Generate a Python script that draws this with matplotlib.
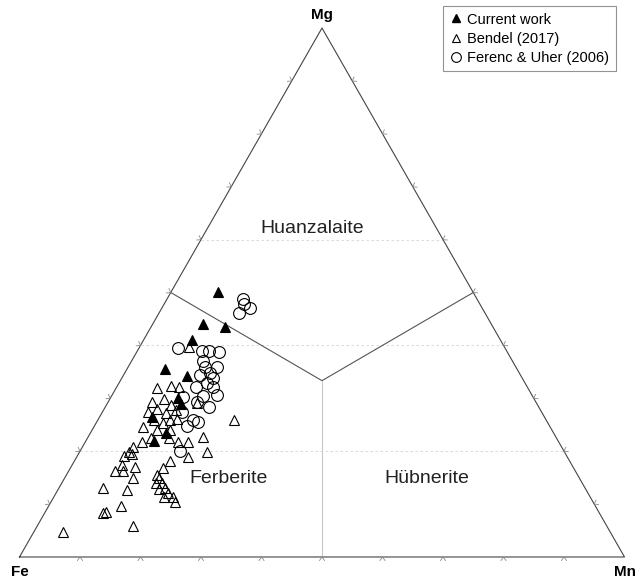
import numpy as np
import matplotlib
matplotlib.use('Agg')
import matplotlib.pyplot as plt
from matplotlib.lines import Line2D

plt.rcParams['font.family'] = ['Liberation Sans', 'DejaVu Sans']

# compositions in % (Mg, Mn), Fe = 100 - Mg - Mn
cur_mg = [50.1, 44.0, 43.5, 41.0, 35.5, 34.2, 30.1, 28.9, 26.5, 23.4, 21.9]
cur_mn = [7.8, 8.3, 12.2, 8.0, 6.3, 10.6, 11.2, 12.2, 8.7, 12.5, 11.2]

ben_mg = [39.7, 31.9, 32.3, 32.1, 29.3, 29.9, 28.7, 29.1, 27.4, 28.0,
          27.2, 27.8, 25.9, 25.3, 25.9, 26.1, 25.9, 24.6, 24.0, 24.0,
          22.5, 22.5, 21.7, 21.7, 22.7, 21.7, 20.8, 19.8, 19.1, 19.5,
          19.8, 18.9, 18.1, 17.4, 16.3, 17.0, 16.3, 14.9, 16.8, 15.5,
          14.9, 14.0, 14.0, 13.0, 12.9, 12.1, 11.3, 11.3, 10.4, 13.0,
          12.7, 9.6, 8.3, 8.5, 5.9, 4.7]
ben_mn = [8.2, 6.8, 8.9, 10.3, 7.3, 8.9, 10.7, 14.8, 7.5, 8.7,
          10.6, 12.0, 9.3, 11.1, 11.9, 13.0, 22.5, 8.1, 10.7, 12.9,
          10.5, 13.5, 15.3, 17.0, 19.0, 9.4, 8.4, 8.2, 7.7, 8.8,
          21.1, 18.4, 15.8, 8.2, 7.6, 10.6, 9.0, 11.3, 15.3, 15.0,
          15.6, 15.6, 16.6, 17.5, 16.6, 18.5, 18.2, 19.7, 20.5, 7.3,
          11.4, 12.0, 9.6, 10.0, 15.8, 4.8]

fer_mg = [48.8, 47.8, 46.1, 47.1, 39.5, 38.9, 38.9, 38.8, 37.1, 35.9,
          35.9, 34.4, 34.8, 33.8, 32.1, 32.9, 32.1, 30.4, 30.6, 30.2,
          29.3, 28.4, 27.4, 25.9, 25.5, 24.8, 20.0]
fer_mn = [12.5, 13.2, 13.3, 14.6, 6.5, 10.7, 11.8, 13.6, 11.8, 12.7,
          14.7, 12.6, 14.1, 15.1, 13.2, 14.6, 16.0, 15.1, 17.3, 11.9,
          14.7, 17.1, 13.2, 15.7, 16.8, 15.3, 16.5]

HR = 529.0 / 605.0  # height / base of the drawn triangle


def tern(mg, mn):
    mg = np.asarray(mg) / 100.0
    mn = np.asarray(mn) / 100.0
    return mn + 0.5 * mg, mg * HR


fig = plt.figure(figsize=(6.35, 5.81), dpi=100)
ax = fig.add_axes([0, 0, 1, 1])
ax.set_xlim(-19.5 / 605, 615.5 / 605)
ax.set_ylim(-24 / 605, 557 / 605)
ax.axis('off')

fe = np.array([0.0, 0.0])
mn = np.array([1.0, 0.0])
mg = np.array([0.5, HR])
cen = (fe + mn + mg) / 3

# faint grid lines (Mg = 20, 40, 60 %)
for g in [0.2, 0.4, 0.6]:
    y = g * HR
    ax.plot([0.5 * g, 1 - 0.5 * g], [y, y], color='#d5d5d5', lw=0.6,
            ls=(0, (3, 3)), zorder=1)

# field boundaries
ax.plot([(fe + mg)[0] / 2, cen[0], (mn + mg)[0] / 2],
        [(fe + mg)[1] / 2, cen[1], (mn + mg)[1] / 2], color='#555555', lw=0.8, zorder=2)
ax.plot([cen[0], 0.5], [cen[1], 0], color='#c8c8c8', lw=0.8, zorder=2)

# outline
tri = np.array([fe, mn, mg, fe])
ax.plot(tri[:, 0], tri[:, 1], color='#444444', lw=0.8, zorder=3)

# chevron ticks every 10 %
tl = 3.5 / 605
tw = 2.5 / 605
for a, b in [(fe, mn), (mn, mg), (mg, fe)]:
    d = (b - a) / np.linalg.norm(b - a)
    n = np.array([d[1], -d[0]])  # outward normal
    for t in np.arange(1, 10) / 10.0:
        p = a + (b - a) * t
        q1 = p + n * tl + d * tw
        q2 = p + n * tl - d * tw
        ax.plot([q1[0], p[0], q2[0]], [q1[1], p[1], q2[1]],
                color='#888888', lw=0.6, zorder=3)

# data
x, y = tern(ben_mg, ben_mn)
ax.plot(x, y, ls='none', marker='^', ms=7.5, mfc='none', mec='black', mew=0.8, zorder=4)
x, y = tern(fer_mg, fer_mn)
ax.plot(x, y, ls='none', marker='o', ms=8.5, mfc='none', mec='black', mew=0.8, zorder=5)
x, y = tern(cur_mg, cur_mn)
ax.plot(x, y, ls='none', marker='^', ms=7, mfc='black', mec='black', mew=0.8, zorder=6)

# field names
ax.text(0.4835, 0.5438, 'Huanzalaite', fontsize=14, ha='center', va='center', color='#222222')
ax.text(0.346, 0.129, 'Ferberite', fontsize=14, ha='center', va='center', color='#222222')
ax.text(0.6736, 0.129, 'Hübnerite', fontsize=14, ha='center', va='center', color='#222222')

# vertex labels
ax.text(0.5, 0.896, 'Mg', fontsize=11, fontweight='bold', ha='center', va='center')
ax.text(0.0, -0.0248, 'Fe', fontsize=11, fontweight='bold', ha='center', va='center')
ax.text(1.0, -0.0248, 'Mn', fontsize=11, fontweight='bold', ha='center', va='center')

handles = [
    Line2D([], [], ls='none', marker='^', ms=6, mfc='black', mec='black'),
    Line2D([], [], ls='none', marker='^', ms=6, mfc='none', mec='black', mew=0.8),
    Line2D([], [], ls='none', marker='o', ms=7, mfc='none', mec='black', mew=0.8),
]
labels = ['Current work', 'Bendel (2017)', 'Ferenc & Uher (2006)']
leg = fig.legend(handles, labels, loc='upper right', bbox_to_anchor=(616 / 635, 1 - 6 / 581),
                 fontsize=10.5, frameon=True, fancybox=False, handlelength=0.8,
                 handletextpad=0.4, borderpad=0.45, labelspacing=0.35, borderaxespad=0)
leg.get_frame().set_edgecolor('#777777')
leg.get_frame().set_linewidth(0.8)

plt.savefig('out.png', dpi=100)
